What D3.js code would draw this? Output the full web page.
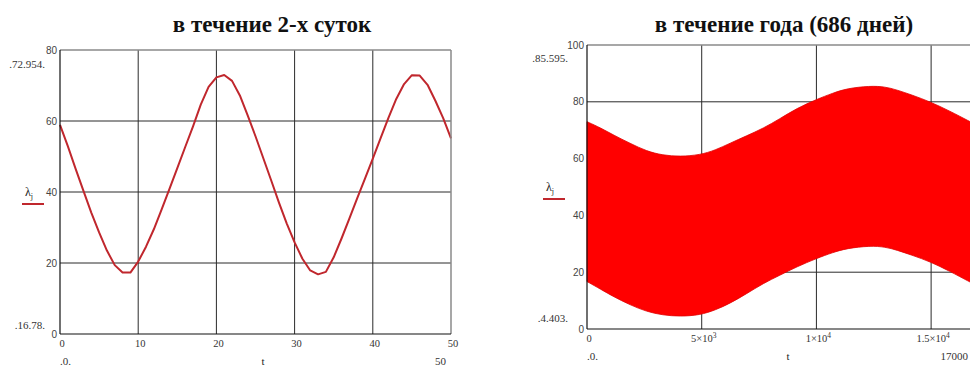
<!DOCTYPE html>
<html><head><meta charset="utf-8">
<script src="https://cdn.jsdelivr.net/npm/d3@7/dist/d3.min.js"></script>
<style>
html,body{margin:0;padding:0;background:#fff;}
svg{display:block;}
</style></head>
<body>
<svg id="c" width="970" height="367"></svg>
<script>
// ---------- DATA ----------
// Left chart: λ over 2 days (hourly)
const tDay = [0,1,2,3,4,5,6,7,8,9,10,11,12,13,14,15,16,17,18,19,20,21,22,23,24,25,26,27,28,29,30,31,32,33,34,35,36,37,38,39,40,41,42,43,44,45,46,47,48,49,50];
const lambdaDay = [58.9,52.9,46.5,40.3,34.2,28.6,23.5,19.4,17.3,17.3,20.4,24.6,29.5,35.1,40.9,46.7,52.6,58.4,64.6,69.6,72.3,72.95,71.3,67.2,61.6,55.7,49.5,43.3,37.0,31.1,25.8,21.2,17.9,16.8,17.5,21.6,26.9,32.5,38.2,43.8,49.4,55.2,60.9,66.2,70.4,72.9,72.8,70.2,65.7,60.8,55.1];
const yTicksL = [0,20,40,60,80];
const xTicksL = [0,10,20,30,40,50];
const markersL = {yMax:".72.954.", yMin:".16.78.", xMin:".0.", xMax:"50"};

// Right chart: envelope of λ over the year (dense daily oscillation)
const tYear = [0,600,1150,1875,2600,3300,4050,4930,5600,6230,6950,7690,8400,9140,10020,10700,11320,12340,13000,13500,14200,14960,15800,16700,17000];
const lambdaUpper = [73.0,70.8,68.3,65.4,62.6,61.2,60.7,61.3,63.0,65.4,68.0,70.7,74.0,77.7,80.9,83.0,84.7,85.6,85.3,84.2,82.3,80.0,76.8,73.0,71.7];
const lambdaLower = [16.7,14.0,11.4,8.5,6.1,4.9,4.4,4.9,6.7,9.0,12.4,16.1,18.9,21.9,24.9,26.9,28.4,29.3,28.9,27.8,25.9,23.7,20.4,16.5,15.3];
const yTicksR = [0,20,40,60,80,100];
const xTicksR = [{v:0,base:"0",exp:""},{v:5000,base:"5×10",exp:"3"},{v:10000,base:"1×10",exp:"4"},{v:15000,base:"1.5×10",exp:"4"}];
const markersR = {yMax:".85.595.", yMin:".4.403.", xMin:".0.", xMax:"17000"};

const titleL = "в течение 2-х суток";
const titleR = "в течение года (686 дней)";

// ---------- DRAW ----------
const svg = d3.select("#c");
const SERIF = "'Liberation Serif','DejaVu Serif',serif";
const SANS = "'Liberation Sans',Arial,sans-serif";
const GRID = "#2a2a2a";

function panel(o){
  const g = svg.append("g");
  const x = o.x, y = o.y;
  const [x0,x1] = x.range(), [y0,y1] = y.range();
  // grid
  g.append("g").selectAll("line").data(o.yTicks.filter(v=>v!==y.domain()[0] && v!==y.domain()[1]))
    .join("line").attr("x1",x0).attr("x2",Math.min(x1,970)).attr("y1",d=>y(d)).attr("y2",d=>y(d))
    .attr("stroke",GRID).attr("stroke-width",1);
  g.append("g").selectAll("line").data(o.xTickVals.filter(v=>v!==x.domain()[0] && v!==x.domain()[1]))
    .join("line").attr("x1",d=>x(d)).attr("x2",d=>x(d)).attr("y1",y0).attr("y2",y1)
    .attr("stroke",GRID).attr("stroke-width",1);
  // data
  o.drawData(g);
  // frame
  g.append("line").attr("x1",x0).attr("x2",x1).attr("y1",y1).attr("y2",y1).attr("stroke","#8a8a8a").attr("stroke-width",1.5);
  g.append("line").attr("x1",x1).attr("x2",x1).attr("y1",y1).attr("y2",y0).attr("stroke","#8a8a8a").attr("stroke-width",1.5);
  g.append("line").attr("x1",x0).attr("x2",x0).attr("y1",y1).attr("y2",y0).attr("stroke","#111").attr("stroke-width",1.2);
  g.append("line").attr("x1",x0).attr("x2",x1).attr("y1",y0).attr("y2",y0).attr("stroke","#111").attr("stroke-width",1.2);
  // y tick labels
  g.append("g").selectAll("text").data(o.yTicks).join("text")
    .attr("x",x0-3).attr("y",d=>y(d)).attr("dy","0.35em").attr("text-anchor","end")
    .attr("font-family",SANS).attr("font-size",10).attr("fill","#444").text(d=>d);
  // x tick labels
  const xt = g.append("g").selectAll("text").data(o.xTicks).join("text")
    .attr("x",d=>x(d.v)+2).attr("y",y0+13).attr("text-anchor","middle")
    .attr("font-family",SERIF).attr("font-size",10.5).attr("fill","#333");
  xt.append("tspan").text(d=>d.base);
  xt.filter(d=>d.exp).append("tspan").attr("dy",-4).attr("font-size",7.5).text(d=>d.exp);
  // markers (Mathcad-style range labels)
  g.append("text").attr("x",o.markX).attr("y",o.markYMaxY).attr("dy","0.35em").attr("text-anchor","end")
    .attr("font-family",SERIF).attr("font-size",11).attr("fill","#333").text(o.m.yMax);
  g.append("text").attr("x",o.markX).attr("y",o.markYMinY).attr("dy","0.35em").attr("text-anchor","end")
    .attr("font-family",SERIF).attr("font-size",11).attr("fill","#333").text(o.m.yMin);
  g.append("text").attr("x",x0).attr("y",y0+31).attr("text-anchor","start")
    .attr("font-family",SERIF).attr("font-size",11).attr("fill","#333").text(o.m.xMin);
  g.append("text").attr("x",o.xMaxLabelX).attr("y",y0+31).attr("text-anchor",o.xMaxAnchor)
    .attr("font-family",SERIF).attr("font-size",11).attr("fill","#333").text(o.m.xMax);
  g.append("text").attr("x",o.tX).attr("y",y0+31).attr("text-anchor","middle")
    .attr("font-family",SERIF).attr("font-size",11).attr("fill","#222").text("t");
  // y-axis name λj with red underline
  const lab = g.append("text").attr("x",o.labX).attr("y",o.labY)
    .attr("font-family",SERIF).attr("font-size",12).attr("fill","#222");
  lab.append("tspan").text("λ");
  lab.append("tspan").attr("dy",3).attr("font-size",8).text("j");
  g.append("line").attr("x1",o.labX-3).attr("x2",o.labX+19).attr("y1",o.labY+8).attr("y2",o.labY+8)
    .attr("stroke",o.lineColor).attr("stroke-width",2);
  // title
  g.append("text").attr("x",o.titleX).attr("y",32).attr("text-anchor","middle")
    .attr("font-family",SERIF).attr("font-weight","bold").attr("font-size",23).attr("fill","#111").text(o.title);
}

// Left panel
const xL = d3.scaleLinear().domain([0,50]).range([60,451]);
const yL = d3.scaleLinear().domain([0,80]).range([334,50]);
panel({
  x:xL, y:yL, yTicks:yTicksL, xTickVals:xTicksL,
  xTicks:xTicksL.map(v=>({v:v,base:String(v),exp:""})),
  m:markersL, markX:45, markYMaxY:64, markYMinY:325,
  xMaxLabelX:446, xMaxAnchor:"end", tX:263,
  labX:25, labY:196, lineColor:"#c0272d",
  titleX:272, title:titleL,
  drawData:g=>{
    const line = d3.line().x((d,i)=>xL(tDay[i])).y(d=>yL(d));
    g.append("path").datum(lambdaDay).attr("d",line).attr("fill","none")
      .attr("stroke","#c0272d").attr("stroke-width",2).attr("stroke-linejoin","round");
  }
});

// Right panel
const xR = d3.scaleLinear().domain([0,17000]).range([587,977]);
const yR = d3.scaleLinear().domain([0,100]).range([329,45]);
panel({
  x:xR, y:yR, yTicks:yTicksR, xTickVals:xTicksR.map(d=>d.v),
  xTicks:xTicksR,
  m:markersR, markX:568, markYMaxY:58, markYMinY:318,
  xMaxLabelX:968, xMaxAnchor:"end", tX:788,
  labX:546, labY:191, lineColor:"#c0272d",
  titleX:784, title:titleR,
  drawData:g=>{
    const area = d3.area().curve(d3.curveBasis)
      .x((d,i)=>xR(tYear[i])).y0((d,i)=>yR(lambdaLower[i])).y1(d=>yR(d));
    g.append("path").datum(lambdaUpper).attr("d",area)
      .attr("fill","#ff0000").attr("stroke","#e00000").attr("stroke-width",0.8);
  }
});
</script>
</body></html>
